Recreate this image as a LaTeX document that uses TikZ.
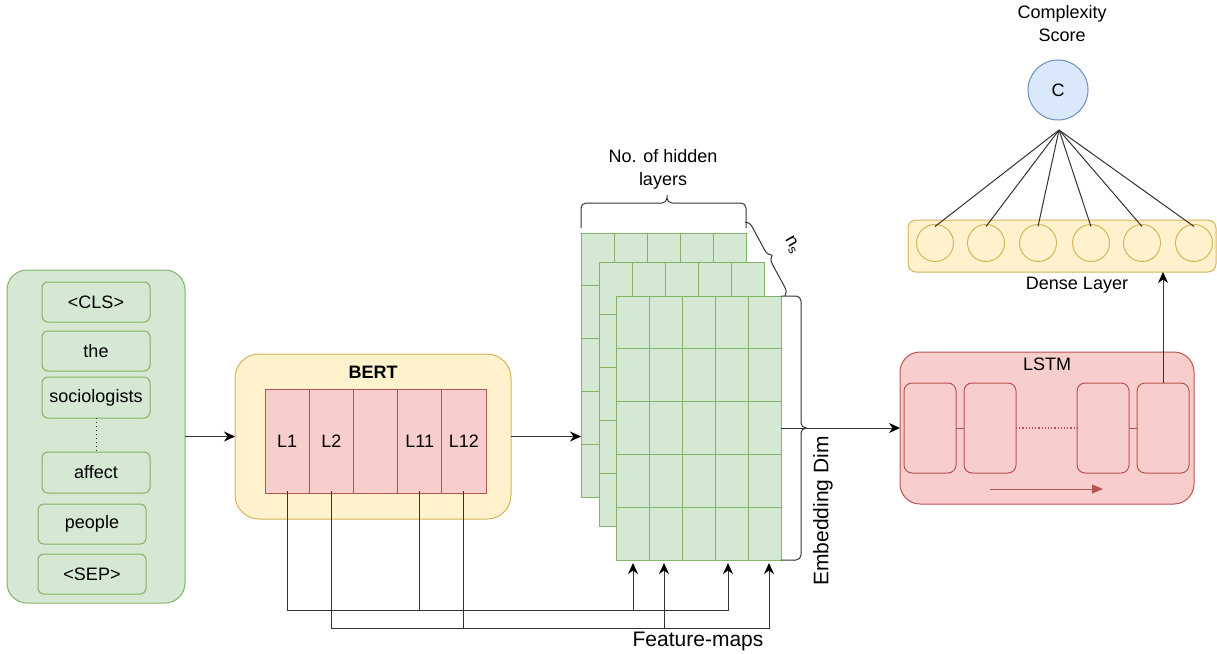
\documentclass[tikz,border=0pt]{standalone}
\usepackage{fontspec}
\setmainfont{Liberation Sans}
\usetikzlibrary{arrows.meta,decorations.pathreplacing,calc}

\definecolor{gfill}{HTML}{D5E8D4}
\definecolor{gline}{HTML}{82B366}
\definecolor{yfill}{HTML}{FFF2CC}
\definecolor{yline}{HTML}{D6B656}
\definecolor{rfill}{HTML}{F8CECC}
\definecolor{rline}{HTML}{B85450}
\definecolor{bfill}{HTML}{DAE8FC}
\definecolor{bline}{HTML}{6C8EBF}
\definecolor{ink}{HTML}{333333}

\tikzset{
  every node/.style={font=\fontsize{18}{23}\selectfont, inner sep=0pt, outer sep=0pt},
  bigtext/.style={font=\fontsize{21}{25}\selectfont},
  greenbox/.style={draw=gline, fill=gfill, line width=1pt},
  yellowbox/.style={draw=yline, fill=yfill, line width=1pt},
  redbox/.style={draw=rline, fill=rfill, line width=1pt},
  token/.style={greenbox, rounded corners=6pt, minimum width=108pt, minimum height=40pt},
  layerbox/.style={redbox, minimum width=44.2pt, minimum height=104pt},
  cellbox/.style={redbox, rounded corners=8pt, minimum width=52pt, minimum height=90pt},
  unit/.style={yellowbox, circle, minimum size=37pt},
  sheet/.style={greenbox, minimum width=165pt, minimum height=264pt, anchor=north west},
  sheetline/.style={draw=gline, line width=1pt},
  conn/.style={draw=ink, line width=1pt, -{Stealth[length=11pt,width=10pt,inset=3.5pt,color=black]}},
  wire/.style={draw=ink, line width=1pt},
  bracket/.style={draw=ink, line width=1pt, rounded corners=5pt},
}

% a feature-map sheet: 5 x 5 grid of cells
\newcommand\featsheet[3]{%
  \node[sheet] (#1) at (#2,#3) {};
  \foreach \i in {1,...,4} {
    \draw[sheetline] ($(#1.north west)+(33*\i,0)$) -- ($(#1.south west)+(33*\i,0)$);
    \draw[sheetline] ($(#1.north west)+(0,52.8*\i)$) -- ($(#1.north east)+(0,52.8*\i)$);
  }
}

\begin{document}
\begin{tikzpicture}[x=1pt,y=-1pt]
\useasboundingbox (0,0) rectangle (1217,653);

% ---------------- input tokens ----------------
\node[greenbox, rounded corners=20pt, minimum width=178pt, minimum height=333pt] (tokens) at (96,436.5) {};
\node[token] (cls)   at (96,302)   {<CLS>};
\node[token] (the)   at (96,351)   {the};
\node[token, minimum height=41pt] (soc) at (96,397.5) {sociologists};
\node[token, minimum height=41pt] (aff) at (96,472.5) {affect};
\node[token] (ppl)   at (92,524)   {people};
\node[token] (sep)   at (92,574)   {<SEP>};
\draw[ink, line width=1pt, dash pattern=on 1pt off 3pt] (soc.south) -- (aff.north);

% ---------------- BERT ----------------
\node[yellowbox, rounded corners=24pt, minimum width=276pt, minimum height=165pt] (bert) at (373,436.5) {};
\node[font=\fontsize{18}{22}\selectfont\bfseries] (berttitle) at (373,372) {BERT};
\foreach \n/\t [count=\k from 0] in {l1/L1, l2/L2, l3/{}, l4/L11, l5/L12} {
  \node[layerbox] (\n) at (287.1+44.2*\k,441) {\t};
}

\draw[conn] (tokens.east) -- (bert.west);

% ---------------- stacked feature maps ----------------
\featsheet{back}{581}{233}
\featsheet{middle}{599}{262}
\featsheet{front}{616}{296}

\draw[conn] (bert.east) -- (bert.east -| back.west);

% braces around the stack
\draw[bracket] (581,228) -- (581,203) -- (667,203) -- (667,195)
               (667,195) -- (667,203) -- (746,203) -- (746,228);
\node[align=center] (hidden) at (663,169) {No. of hidden\\layers};

\draw[ink, line width=1pt, decorate, decoration={brace, amplitude=8pt}] (745,222) -- (785,296);
\node[rotate=-60] (ns) at (792,245) {n\textsubscript{s}};

\draw[bracket] (781,296) -- (801,296) -- (801,428) -- (807,428)
               (807,428) -- (801,428) -- (801,560) -- (781,560);
\node[bigtext, rotate=90] (embdim) at (823,511) {Embedding Dim};

% feature-map taps from the BERT layers
\coordinate (f1) at (633,563);
\coordinate (f2) at (664,563);
\coordinate (f3) at (728,563);
\coordinate (f4) at (769,563);
\draw[conn] ([yshift=2pt]l1.south) |- (f1 |- 0,610) -- (f1);
\draw[conn] ([yshift=2pt]l4.south) |- (f3 |- 0,610) -- (f3);
\draw[conn] ([yshift=2pt]l2.south) |- (f2 |- 0,628) -- (f2);
\draw[conn] ([yshift=2pt]l5.south) |- (f4 |- 0,628) -- (f4);
\node[bigtext] (fmaps) at (698,641) {Feature-maps};

% ---------------- LSTM ----------------
\node[redbox, rounded corners=20pt, minimum width=294pt, minimum height=152pt] (lstm) at (1047,428) {};
\node (lstmtitle) at (1047,364) {LSTM};
\node[cellbox] (c1) at (930,428) {};
\node[cellbox] (c2) at (990,428) {};
\node[cellbox] (c3) at (1103,428) {};
\node[cellbox] (c4) at (1163,428) {};
\draw[rline, line width=1pt] (c1.east) -- (c2.west);
\draw[rline, line width=1.2pt, dotted] (c2.east) -- (c3.west);
\draw[rline, line width=1pt] (c3.east) -- (c4.west);
\coordinate (dirA) at (990,489);
\coordinate (dirB) at (1103,489);
\draw[rline, line width=1pt, -{Triangle[length=11pt,width=9pt]}] (dirA) -- (dirB);

\draw[conn] (front.east) -- (lstm.west);

% ---------------- dense layer and score ----------------
\node[yellowbox, rounded corners=8pt, minimum width=308pt, minimum height=52pt] (dense) at (1062,246) {};
\foreach \x [count=\k] in {935,986,1038,1091,1142,1194} {
  \node[unit] (u\k) at (\x,243) {};
}
\node (denselabel) at (1077,285) {Dense Layer};

\draw[conn] (c4.north) -- (c4.north |- dense.south);

\node[draw=bline, fill=bfill, line width=1pt, circle, minimum size=60pt] (score) at (1058,90) {C};
\node[align=center] (scorelabel) at (1062,24) {Complexity\\Score};
\coordinate (hub) at (1059,130);
\foreach \k in {1,...,6} {
  \draw[wire] (hub) -- ([yshift=-2pt]u\k.north);
}
\end{tikzpicture}
\end{document}
